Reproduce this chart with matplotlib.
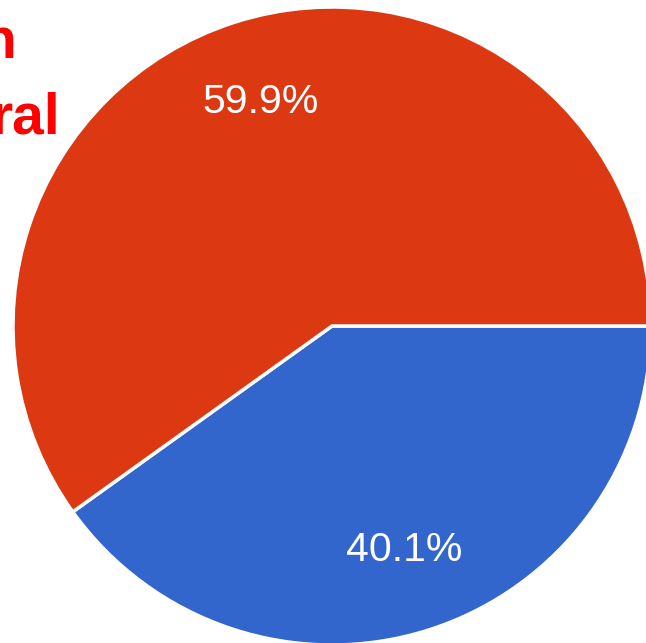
import matplotlib.pyplot as plt

# slice data (clockwise from 3 o'clock)
labels = ['Blue', 'Red']
values = [40.1, 59.9]
colors = ['#3366CC', '#DC3912']

# cut-off title fragments at top left
title_parts = ['n', 'ral']

W, H = 646, 643
fig = plt.figure(figsize=(W / 100, H / 100), dpi=100)
ax = fig.add_axes([0, 0, 1, 1])
ax.set_xlim(0, W)
ax.set_ylim(0, H)
ax.set_aspect('equal')
ax.axis('off')

wedges, texts, autotexts = ax.pie(
    values, colors=colors, startangle=0, counterclock=False,
    center=(332, H - 326), radius=319,
    autopct='%.1f%%', pctdistance=0.736,
    wedgeprops=dict(edgecolor='white', linewidth=2.5),
    textprops=dict(color='white', fontsize=29.5, family='Liberation Sans'),
)
ax.set_xlim(0, W)
ax.set_ylim(0, H)

ax.text(16, H - 58, title_parts[0], color='#FF0000', fontsize=41, fontweight='bold',
        family='Liberation Sans', ha='right', va='baseline')
ax.text(60, H - 133, title_parts[1], color='#FF0000', fontsize=41, fontweight='bold',
        family='Liberation Sans', ha='right', va='baseline')

fig.savefig('out.png', dpi=100)
